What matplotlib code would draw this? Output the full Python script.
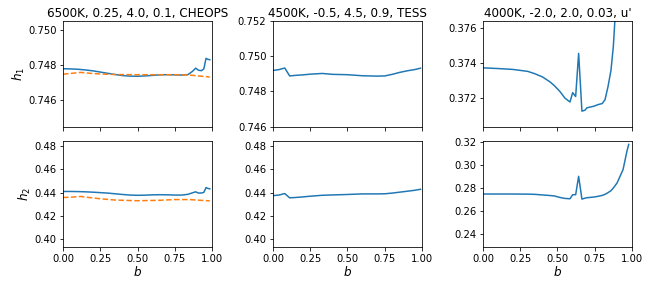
import matplotlib
matplotlib.use("Agg")
import matplotlib.pyplot as plt

titles = ["6500K, 0.25, 4.0, 0.1, CHEOPS", "4500K, -0.5, 4.5, 0.9, TESS", "4000K, -2.0, 2.0, 0.03, u'"]

# Panel 1 (CHEOPS)
b1 = [0, 0.05, 0.1, 0.15, 0.2, 0.25, 0.3, 0.35, 0.4, 0.45, 0.5, 0.55, 0.6, 0.65, 0.7, 0.75, 0.8,
      0.84, 0.87, 0.89, 0.91, 0.93, 0.945, 0.96, 0.97, 0.985]
h1_p1 = [0.74779, 0.74778, 0.74776, 0.74772, 0.74767, 0.74760, 0.74753, 0.74746, 0.74740, 0.74737,
         0.74736, 0.74738, 0.74741, 0.74744, 0.74745, 0.74744, 0.74743, 0.74746, 0.74765, 0.74782,
         0.74770, 0.74768, 0.74778, 0.74838, 0.74833, 0.74830]
h2_p1 = [0.4409, 0.4409, 0.4408, 0.4406, 0.4403, 0.4399, 0.4395, 0.4389, 0.4383, 0.4378, 0.4376,
         0.4377, 0.4380, 0.4381, 0.4380, 0.4378, 0.4378, 0.4385, 0.4398, 0.4406, 0.4395, 0.4396,
         0.4401, 0.4443, 0.4436, 0.4432]
b1_ref = [0, 0.06, 0.12, 0.18, 0.25, 0.35, 0.5, 0.65, 0.75, 0.85, 0.92, 0.985]
h1_p1_ref = [0.74748, 0.74753, 0.74758, 0.74753, 0.74749, 0.74746, 0.74745, 0.74745, 0.74745,
             0.74743, 0.74737, 0.74732]
h2_p1_ref = [0.4357, 0.4360, 0.4366, 0.4356, 0.4346, 0.4335, 0.4329, 0.4333, 0.4339, 0.4339,
             0.4333, 0.4328]

# Panel 2 (TESS)
b2 = [0, 0.04, 0.079, 0.112, 0.15, 0.2, 0.25, 0.33, 0.4, 0.5, 0.6, 0.7, 0.75, 0.8, 0.85, 0.9, 0.95, 0.99]
h1_p2 = [0.74919, 0.74924, 0.74933, 0.74888, 0.74891, 0.74894, 0.74898, 0.74902, 0.74897, 0.74895,
         0.74889, 0.74887, 0.74888, 0.74897, 0.74908, 0.74917, 0.74924, 0.74932]
h2_p2 = [0.4373, 0.4378, 0.4391, 0.4354, 0.4357, 0.4362, 0.4368, 0.4376, 0.4379, 0.4383, 0.4388,
         0.4388, 0.4389, 0.4395, 0.4403, 0.4411, 0.4419, 0.4428]

# Panel 3 (u')
b3 = [0, 0.1, 0.2, 0.3, 0.35, 0.4, 0.45, 0.48, 0.517, 0.55, 0.584, 0.602, 0.622, 0.642, 0.664,
      0.684, 0.698, 0.745, 0.772, 0.80, 0.819, 0.839, 0.859, 0.875, 0.9, 0.94, 0.966, 0.978]
h1_p3 = [0.37374, 0.37370, 0.37365, 0.37354, 0.37340, 0.37322, 0.37294, 0.37272, 0.37239, 0.37202,
         0.37180, 0.37233, 0.37211, 0.37456, 0.37128, 0.37133, 0.37147, 0.37156, 0.37165, 0.37171,
         0.37193, 0.37267, 0.37360, 0.37498, 0.3785, 0.3830, 0.3870, 0.3890]
h2_p3 = [0.2748, 0.2748, 0.2748, 0.2747, 0.2745, 0.2740, 0.2735, 0.2731, 0.2718, 0.2710, 0.2707,
         0.2742, 0.2742, 0.2901, 0.2704, 0.2712, 0.2716, 0.2722, 0.2728, 0.2736, 0.2745, 0.2760,
         0.2777, 0.2800, 0.2844, 0.2959, 0.3118, 0.3177]

ylims_top = [(0.7445, 0.7505), (0.746, 0.752), (0.3704, 0.3764)]
ylims_bot = [(0.393, 0.4841), (0.393, 0.4841), (0.229, 0.3203)]

fig, axes = plt.subplots(2, 3, figsize=(9, 4), dpi=72, sharex=True)
fig.subplots_adjust(left=0.0972, right=0.9753, top=0.927, bottom=0.1424, wspace=0.409, hspace=0.14)

blue = "#1f77b4"
orange = "#ff7f0e"

axes[0, 0].plot(b1, h1_p1, color=blue, lw=1.5)
axes[0, 0].plot(b1_ref, h1_p1_ref, color=orange, lw=1.5, ls="--")
axes[1, 0].plot(b1, h2_p1, color=blue, lw=1.5)
axes[1, 0].plot(b1_ref, h2_p1_ref, color=orange, lw=1.5, ls="--")
axes[0, 1].plot(b2, h1_p2, color=blue, lw=1.5)
axes[1, 1].plot(b2, h2_p2, color=blue, lw=1.5)
axes[0, 2].plot(b3, h1_p3, color=blue, lw=1.5)
axes[1, 2].plot(b3, h2_p3, color=blue, lw=1.5)

top_ticks = [[0.746, 0.748, 0.750], [0.746, 0.748, 0.750, 0.752], [0.372, 0.374, 0.376]]
bot_ticks = [[0.40, 0.42, 0.44, 0.46, 0.48], [0.40, 0.42, 0.44, 0.46, 0.48], [0.24, 0.26, 0.28, 0.30, 0.32]]

for j in range(3):
    at = axes[0, j]
    ab = axes[1, j]
    at.set_title(titles[j], fontsize=12, pad=4)
    at.set_ylim(*ylims_top[j])
    ab.set_ylim(*ylims_bot[j])
    at.set_yticks(top_ticks[j])
    at.set_yticklabels([f"{v:.3f}" for v in top_ticks[j]])
    ab.set_yticks(bot_ticks[j])
    ab.set_yticklabels([f"{v:.2f}" for v in bot_ticks[j]])
    ab.set_xlim(0, 1)
    ab.set_xticks([0, 0.25, 0.5, 0.75, 1.0])
    ab.set_xlabel("$b$", fontsize=12, labelpad=1)
    for a in (at, ab):
        a.tick_params(axis="y", labelsize=10, length=3.5, pad=3)
        a.tick_params(axis="x", labelsize=10, length=3.5, pad=3.5)

axes[0, 0].set_ylabel("$h_1$", fontsize=12, labelpad=1)
axes[1, 0].set_ylabel("$h_2$", fontsize=12, labelpad=1)

fig.savefig("out.png", dpi=72)
